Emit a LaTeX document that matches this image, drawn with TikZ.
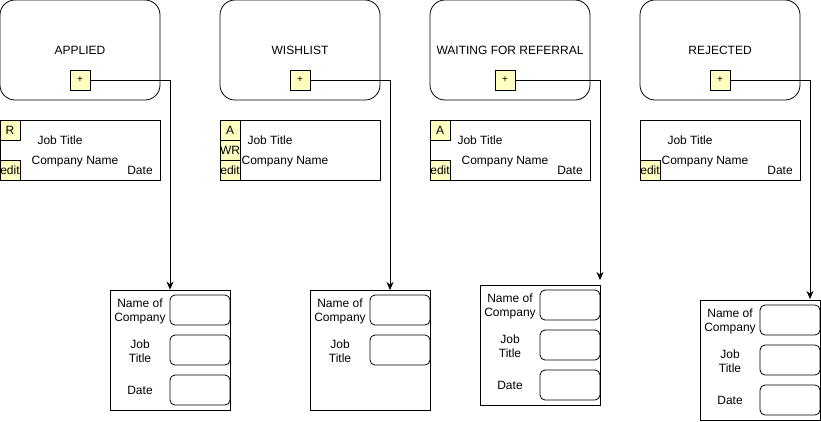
\documentclass[tikz,border=0pt]{standalone}
\usepackage{fontspec}
\setmainfont{Liberation Sans}
\usetikzlibrary{arrows.meta}
\definecolor{btn}{HTML}{FFFFC0}
\tikzset{
  lane/.style={draw, line width=0.8pt, rounded corners=15pt, minimum width=160pt, minimum height=100pt, inner sep=0pt},
  card/.style={draw, line width=0.8pt, minimum width=160pt, minimum height=60pt, inner sep=0pt},
  tag/.style={draw, line width=0.8pt, fill=btn, minimum width=20pt, minimum height=20pt, inner sep=0pt, font=\fontsize{12}{14}\selectfont},
  plusbtn/.style={draw, line width=0.8pt, fill=btn, minimum width=20pt, minimum height=20pt, inner sep=0pt, font=\fontsize{10}{10}\selectfont},
  form/.style={draw, line width=0.8pt, minimum width=120pt, minimum height=120pt, inner sep=0pt},
  field/.style={draw, line width=0.8pt, rounded corners=5pt, minimum width=60pt, minimum height=30pt, inner sep=0pt},
  txt/.style={inner sep=0pt, align=center, font=\fontsize{12}{14}\selectfont},
  one/.style={txt, text height=8.6pt, text depth=2.4pt},
  arr/.style={draw, line width=0.8pt, -{Stealth[length=8pt,width=7pt]}}
}
\begin{document}
\begin{tikzpicture}[x=1pt,y=-1pt]
\useasboundingbox (0,0) rectangle (821,421);
% lanes
\node[lane] (l1) at (80,50) {};
\node[lane] (l2) at (300,50) {};
\node[lane] (l3) at (510,50) {};
\node[lane] (l4) at (720,50) {};
\node[one] (t1) at (80,51) {APPLIED};
\node[one] (t2) at (300,51) {WISHLIST};
\node[one] (t3) at (510,51) {WAITING FOR REFERRAL};
\node[one] (t4) at (720,51) {REJECTED};
\node[plusbtn] (p1) at (80,80) {+};
\node[plusbtn] (p2) at (300,80) {+};
\node[plusbtn] (p3) at (505,80) {+};
\node[plusbtn] (p4) at (720,80) {+};
% cards
\node[card] (c1) at (80,150) {};
\node[tag] (c1r) at (10,130) {R};
\node[tag] (c1e) at (10,170) {edit};
\node[one] (c1j) at (60,141) {Job Title};
\node[one] (c1c) at (75,161) {Company Name};
\node[one] (c1d) at (140,171) {Date};

\node[card] (c2) at (300,150) {};
\node[tag] (c2a) at (230,130) {A};
\node[tag] (c2w) at (230,150) {WR};
\node[tag] (c2e) at (230,170) {edit};
\node[one] (c2j) at (270,141) {Job Title};
\node[one] (c2c) at (285,161) {Company Name};

\node[card] (c3) at (510,150) {};
\node[tag] (c3a) at (440,130) {A};
\node[tag] (c3e) at (440,170) {edit};
\node[one] (c3j) at (480,141) {Job Title};
\node[one] (c3c) at (505,161) {Company Name};
\node[one] (c3d) at (570,171) {Date};

\node[card] (c4) at (720,150) {};
\node[tag] (c4e) at (650,170) {edit};
\node[one] (c4j) at (690,141) {Job Title};
\node[one] (c4c) at (705,161) {Company Name};
\node[one] (c4d) at (780,171) {Date};
% forms
\node[form] (f1) at (170,350) {};
\node[field] (f1a) at (200,310) {};
\node[field] (f1b) at (200,350) {};
\node[field] (f1c) at (200,390) {};
\node[txt] (f1la) at (140,311) {Name of\\Company};
\node[txt] (f1lb) at (140,351) {Job\\Title};
\node[one] (f1lc) at (140,391) {Date};

\node[form] (f2) at (370,350) {};
\node[field] (f2a) at (400,310) {};
\node[field] (f2b) at (400,350) {};
\node[txt] (f2la) at (340,311) {Name of\\Company};
\node[txt] (f2lb) at (340,351) {Job\\Title};

\node[form] (f3) at (540,345) {};
\node[field] (f3a) at (570,305) {};
\node[field] (f3b) at (570,345) {};
\node[field] (f3c) at (570,385) {};
\node[txt] (f3la) at (510,306) {Name of\\Company};
\node[txt] (f3lb) at (510,346) {Job\\Title};
\node[one] (f3lc) at (510,386) {Date};

\node[form] (f4) at (760,360) {};
\node[field] (f4a) at (790,320) {};
\node[field] (f4b) at (790,360) {};
\node[field] (f4c) at (790,400) {};
\node[txt] (f4la) at (730,321) {Name of\\Company};
\node[txt] (f4lb) at (730,361) {Job\\Title};
\node[one] (f4lc) at (730,401) {Date};
% connectors
\coordinate (e2) at (390,290);
\coordinate (e3) at (600,280);
\coordinate (e4) at (810,299);
\draw[arr] (p1.east) -| (f1.north);
\draw[arr] (p2.east) -| (e2);
\draw[arr] (p3.east) -| (e3);
\draw[arr] (p4.east) -| (e4);
\end{tikzpicture}
\end{document}
